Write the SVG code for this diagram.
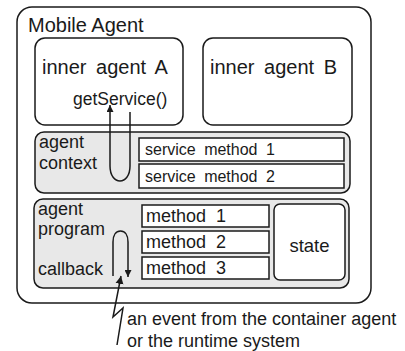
<svg xmlns="http://www.w3.org/2000/svg" width="405" height="351" viewBox="0 0 405 351">
<defs>
<style>
text{font-family:"Liberation Sans",Arial,sans-serif;fill:#1a1a1a;}
.big{font-size:20px;}
.med{font-size:18px;}
.sm{font-size:16px;}
.box{fill:#fff;stroke:#1a1a1a;stroke-width:1.5;}
.gray{fill:#e8e8e8;stroke:#1a1a1a;stroke-width:1.5;}
.ln{fill:none;stroke:#1a1a1a;stroke-width:1.5;}
</style>
<marker id="ah" viewBox="0 0 10 10" refX="10" refY="5" markerWidth="7" markerHeight="7" markerUnits="userSpaceOnUse" orient="auto">
<path d="M0,0 L10,5 L0,10 z" fill="#1a1a1a"/>
</marker>
<marker id="ahl" viewBox="0 0 10 10" refX="10" refY="5" markerWidth="8" markerHeight="11" markerUnits="userSpaceOnUse" orient="auto">
<path d="M0,0 L10,5 L0,10 z" fill="#1a1a1a"/>
</marker>
</defs>
<g id="mobile-agent">
<rect class="box" x="17" y="7" width="354" height="296" rx="15"/>
<text class="big" x="28" y="32">Mobile Agent</text>
</g>
<g id="inner-agent-a">
<rect class="box" x="35" y="38" width="148" height="87" rx="10"/>
<text class="big" x="42" y="74" word-spacing="4">inner agent A</text>
<text x="73" y="105" font-size="17.5">getService()</text>
</g>
<g id="inner-agent-b">
<rect class="box" x="203" y="38" width="149" height="87" rx="10"/>
<text class="big" x="210" y="74" word-spacing="4">inner agent B</text>
</g>
<g id="agent-context">
<rect class="gray" x="35" y="132" width="315" height="61" rx="9"/>
<text class="med" x="39" y="148">agent</text>
<text class="med" x="39" y="169">context</text>
</g>
<g id="service-method-1">
<rect class="box" x="139" y="138" width="205" height="23"/>
<text class="sm" x="145" y="155" word-spacing="4">service method 1</text>
</g>
<g id="service-method-2">
<rect class="box" x="139" y="164" width="205" height="24"/>
<text class="sm" x="145" y="182" word-spacing="4">service method 2</text>
</g>
<g id="agent-program">
<rect class="gray" x="34" y="199" width="315" height="89" rx="9"/>
<text class="med" x="38" y="215">agent</text>
<text class="med" x="38" y="235">program</text>
<text class="med" x="38" y="275">callback</text>
</g>
<g id="method-1">
<rect class="box" x="142" y="205" width="127" height="22"/>
<text class="med" x="146" y="222" word-spacing="5">method 1</text>
</g>
<g id="method-2">
<rect class="box" x="142" y="231" width="127" height="22"/>
<text class="med" x="146" y="248" word-spacing="5">method 2</text>
</g>
<g id="method-3">
<rect class="box" x="142" y="257" width="127" height="22"/>
<text class="med" x="146" y="274" word-spacing="5">method 3</text>
</g>
<g id="state">
<rect class="box" x="274" y="204" width="71" height="76" rx="6"/>
<text x="309.5" y="252" font-size="18.5" text-anchor="middle">state</text>
</g>
<g id="event-label">
<text class="med" x="127" y="325">an event from the container agent</text>
<text class="med" x="127" y="347">or the runtime system</text>
</g>
<g id="connectors">
<path class="ln" d="M130,112 L130,166 C130,176 125,181 120,181 C115,181 110,176 110,166 L110,105" marker-end="url(#ah)"/>
<path class="ln" d="M113,276 L113,242 C113,235 116,231 120.5,231 C125,231 128,235 128,242 L128,277" marker-end="url(#ah)"/>
<path class="ln" d="M117,345 L123,308 L113,317 L121,276" marker-end="url(#ahl)"/>
</g>
</svg>
